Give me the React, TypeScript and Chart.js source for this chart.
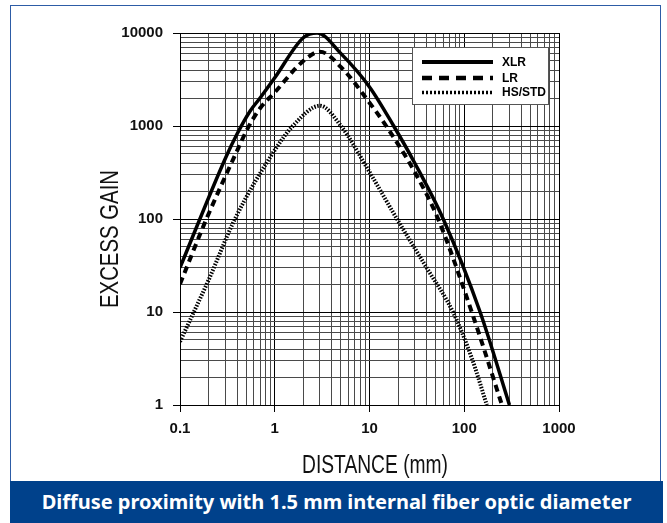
import React, { useEffect, useRef } from 'react';
import { Chart, registerables } from 'chart.js';

Chart.register(...registerables);

// ---------- data ----------
const seriesNames = ['XLR', 'LR', 'HS/STD'];

const xlrX = [0.1, 0.3, 0.4, 0.55, 0.7, 1, 2, 2.8, 5, 10, 18, 30, 60, 147, 300];
const xlrY = [30, 445, 820, 1450, 2000, 3300, 8900, 10000, 6000, 2630, 1000, 400, 100, 10, 1];

const lrX = [0.1, 0.19, 0.4, 0.52, 0.7, 1, 2, 3, 5, 10, 15, 30, 53, 120, 250];
const lrY = [20, 100, 540, 950, 1550, 2300, 5000, 6300, 4300, 1780, 1000, 320, 100, 10, 1];

const hsX = [0.1, 0.14, 0.2, 0.38, 1, 1.55, 3, 5, 10, 19.5, 40, 76, 120, 173];
const hsY = [4.8, 10, 22, 100, 550, 1000, 1650, 1000, 320, 100, 30, 10, 3.2, 1];

const xTickLabels = ['0.1', '1', '10', '100', '1000'];
const yTickLabels = ['1', '10', '100', '1000', '10000'];

const xTitle = 'DISTANCE (mm)';
const yTitle = 'EXCESS GAIN';
const caption = 'Diffuse proximity with 1.5 mm internal fiber optic diameter';

// ---------- helpers ----------
function decadeTicks(labels: string[]) {
  const majors = labels.map(Number);
  const out: { value: number; major: boolean }[] = [];
  for (let i = 0; i < majors.length; i++) {
    const m = majors[i];
    out.push({ value: m, major: true });
    if (i < majors.length - 1) {
      for (let k = 2; k <= 9; k++) out.push({ value: +(m * k).toPrecision(6), major: false });
    }
  }
  return out;
}

function labelFor(labels: string[], v: number) {
  const hit = labels.find((l) => Math.abs(Number(l) - v) / v < 1e-6);
  return hit ?? '';
}

const pts = (xs: number[], ys: number[]) => xs.map((x, i) => ({ x, y: ys[i] }));

const TICK_FONT = { family: '"Liberation Sans", Arial, sans-serif', size: 15, weight: 'bold' as const };
const NARROW = '"Liberation Sans Narrow", "Liberation Sans", Arial, sans-serif';

const styles = [
  { width: 3.5, dash: [] as number[], legendWidth: 4, legendDash: [] as number[] },
  { width: 4, dash: [7, 5], legendWidth: 4.5, legendDash: [10, 7] },
  { width: 4, dash: [1.5, 1.5], legendWidth: 3.5, legendDash: [2, 2] },
];

const overlayPlugin = {
  id: 'overlay',
  afterDatasetsDraw(chart: any) {
    const ctx = chart.ctx as CanvasRenderingContext2D;
    const area = chart.chartArea;
    ctx.save();
    // legend box
    const bx = area.left + 232, by = area.top + 14, bw = 137, bh = 58;
    ctx.fillStyle = '#ffffff';
    ctx.fillRect(bx, by, bw, bh);
    ctx.strokeStyle = '#555';
    ctx.lineWidth = 1;
    ctx.strokeRect(bx + 0.5, by + 0.5, bw - 1, bh - 1);
    const rows = [15, 31, 45.5];
    seriesNames.forEach((name, i) => {
      const y = by + rows[i];
      ctx.beginPath();
      ctx.setLineDash(styles[i].legendDash);
      ctx.lineWidth = styles[i].legendWidth;
      ctx.strokeStyle = '#000';
      ctx.moveTo(bx + 10, y);
      ctx.lineTo(bx + 81, y);
      ctx.stroke();
      ctx.setLineDash([]);
      ctx.fillStyle = '#000';
      ctx.font = 'bold 12px "Liberation Sans", Arial, sans-serif';
      ctx.textAlign = 'left';
      ctx.textBaseline = 'middle';
      ctx.fillText(name, bx + 90, y + 0.5);
    });
    // axis titles
    ctx.fillStyle = '#111';
    ctx.font = `25px ${NARROW}`;
    ctx.textAlign = 'center';
    ctx.textBaseline = 'alphabetic';
    ctx.fillText(xTitle, 375, 473, 146);
    ctx.save();
    ctx.translate(118, 239);
    ctx.rotate(-Math.PI / 2);
    ctx.fillText(yTitle, 0, 0, 138);
    ctx.restore();
    ctx.restore();
  },
};

export default function App() {
  const ref = useRef<HTMLCanvasElement | null>(null);

  useEffect(() => {
    if (!ref.current) return;
    const xTicks = decadeTicks(xTickLabels);
    const yTicks = decadeTicks(yTickLabels);
    const data = [pts(xlrX, xlrY), pts(lrX, lrY), pts(hsX, hsY)];
    const gridOpts = {
      color: (c: any) => (c.tick && c.tick.major ? '#000' : '#4a4a4a'),
      tickColor: (c: any) => (c.tick && c.tick.major ? '#000' : 'rgba(0,0,0,0)'),
      tickLength: 7,
      lineWidth: 1,
    };
    const chart = new Chart(ref.current, {
      type: 'line',
      data: {
        datasets: data.map((d, i) => ({
          label: seriesNames[i],
          data: d,
          borderColor: '#000',
          borderWidth: styles[i].width,
          borderDash: styles[i].dash,
          pointRadius: 0,
          fill: false,
          cubicInterpolationMode: 'monotone' as const,
        })),
      },
      options: {
        responsive: false,
        animation: false,
        devicePixelRatio: 1,
        layout: { padding: { top: 33, right: 108, left: 0, bottom: 0 } },
        plugins: { legend: { display: false }, tooltip: { enabled: false } },
        scales: {
          x: {
            type: 'logarithmic',
            min: 0.1,
            max: 1000,
            afterBuildTicks: (s: any) => { s.ticks = xTicks.map((t) => ({ ...t })); },
            afterFit: (s: any) => { s.height = 76; },
            ticks: {
              autoSkip: false,
              maxRotation: 0,
              padding: 8,
              color: '#111',
              font: TICK_FONT,
              callback: (v: any) => labelFor(xTickLabels, Number(v)),
            },
            grid: gridOpts,
            border: { display: true, color: '#000', width: 1 },
          },
          y: {
            type: 'logarithmic',
            min: 1,
            max: 10000,
            afterBuildTicks: (s: any) => { s.ticks = yTicks.map((t) => ({ ...t })); },
            afterFit: (s: any) => { s.width = 180; },
            ticks: {
              autoSkip: false,
              padding: 10,
              color: '#111',
              font: TICK_FONT,
              callback: (v: any) => labelFor(yTickLabels, Number(v)),
            },
            grid: gridOpts,
            border: { display: true, color: '#000', width: 1 },
          },
        },
      },
      plugins: [overlayPlugin],
    } as any);
    return () => chart.destroy();
  }, []);

  return (
    <div style={{ position: 'absolute', left: 0, top: 0, width: 667, height: 523, background: '#fff', overflow: 'hidden' }}>
      <div
        style={{
          position: 'absolute',
          left: 10,
          top: 5,
          width: 651,
          height: 478,
          border: '1.5px solid #2d5ca6',
          borderBottom: 'none',
          boxSizing: 'border-box',
        }}
      />
      <canvas ref={ref} width={667} height={481} style={{ position: 'absolute', left: 0, top: 0 }} />
      <div
        style={{
          position: 'absolute',
          left: 10,
          top: 481,
          width: 653,
          height: 42,
          background: '#00418b',
          color: '#fff',
          fontFamily: '"Noto Sans", "Open Sans", sans-serif',
          fontWeight: 700,
          fontSize: 20,
          lineHeight: '42px',
          textAlign: 'center',
          whiteSpace: 'nowrap',
        }}
      >
        {caption}
      </div>
    </div>
  );
}
